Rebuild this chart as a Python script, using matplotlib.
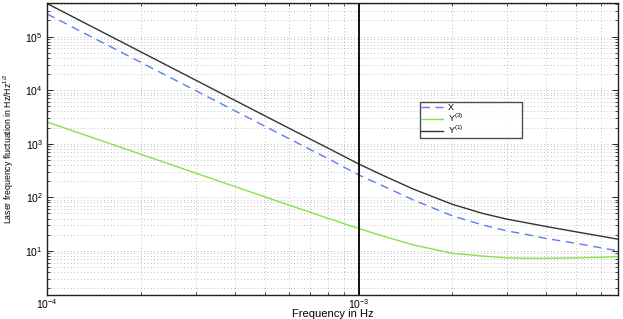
import matplotlib
matplotlib.use("Agg")
import matplotlib.pyplot as plt
from matplotlib import font_manager

# ---- data ----
freq = [1e-4, 1.5e-4, 2e-4, 3e-4, 4e-4, 5e-4, 6e-4, 7e-4, 8e-4, 1e-3,
        1.2e-3, 1.5e-3, 2e-3, 2.5e-3, 3e-3, 3.5e-3, 4e-3, 5e-3, 6e-3, 6.8e-3]
x_vals = [2.65e5, 7.85e4, 3.31e4, 9818, 4144, 2124, 1232, 778, 524, 262,
          162, 89, 45, 30.5, 23.5, 20, 17, 13.8, 11.4, 10.0]
y3_vals = [2550, 1133, 637, 283, 159.4, 102, 71.1, 52.4, 40.3, 26.2,
           18.8, 12.9, 9.0, 8.0, 7.4, 7.25, 7.25, 7.4, 7.6, 7.8]
y1_vals = [4.15e5, 1.23e5, 5.19e4, 1.538e4, 6490, 3328, 1930, 1220, 822, 420,
           255, 142, 74, 50, 39, 33, 28.5, 22.6, 18.8, 16.5]
labels = ["X", "Y$^{(3)}$", "Y$^{(1)}$"]
vline_f = 1e-3
xlim = (1e-4, 6.8e-3)
ylim = (1.5, 4.24e5)

names = {f.name for f in font_manager.fontManager.ttflist}
base = "Liberation Sans"
narrow = "Liberation Sans Narrow" if "Liberation Sans Narrow" in names else base
plt.rcParams["font.family"] = [base, "DejaVu Sans"]
plt.rcParams["mathtext.fontset"] = "custom"
plt.rcParams["mathtext.rm"] = base
plt.rcParams["mathtext.it"] = base + ":italic"
plt.rcParams["mathtext.bf"] = base + ":bold"

fig = plt.figure(figsize=(6.23, 3.19), dpi=100)
ax = fig.add_axes([47 / 623, 1 - 295 / 319, 571 / 623, 292 / 319])

ax.plot(freq, x_vals, color="#5b7cf5", lw=1.0, dashes=(6, 4), label=labels[0])
ax.plot(freq, y3_vals, color="#84e34a", lw=1.0, label=labels[1])
ax.plot(freq, y1_vals, color="#333333", lw=1.0, label=labels[2])
ax.axvline(vline_f, color="#111111", lw=1.4)

ax.set_xscale("log")
ax.set_yscale("log")
ax.set_xlim(*xlim)
ax.set_ylim(*ylim)

gkw = dict(color="#ababab", lw=0.6, linestyle=(0, (1, 3)))
ax.grid(True, which="major", **gkw)
ax.grid(True, which="minor", **gkw)

ax.tick_params(which="both", direction="in", top=True, right=True, labelsize=7.5)
ax.tick_params(which="major", length=4, width=0.6)
ax.tick_params(which="minor", length=2, width=0.5)
ax.tick_params(axis="x", pad=1.5)
ax.tick_params(axis="y", pad=3)
for s in ax.spines.values():
    s.set_linewidth(1.0)
    s.set_color("#222222")

ax.set_xlabel("Frequency in Hz", fontsize=8, labelpad=-1)
ax.set_ylabel("Laser frequency fluctuation in Hz/Hz$^{1/2}$", fontsize=6.3,
              family=[narrow, "DejaVu Sans"], labelpad=7)

leg = ax.legend(loc="upper left", bbox_to_anchor=((420 - 47) / 571, (295 - 102) / 292, 102 / 571, 0.0),
                mode="expand", fontsize=6.5, frameon=True, fancybox=False,
                labelspacing=-0.05, borderpad=0.15, handlelength=2.4, handletextpad=0.5,
                borderaxespad=0)
leg.get_frame().set_edgecolor("#222222")
leg.get_frame().set_linewidth(1.0)

fig.savefig("out.png", dpi=100, facecolor="white")
